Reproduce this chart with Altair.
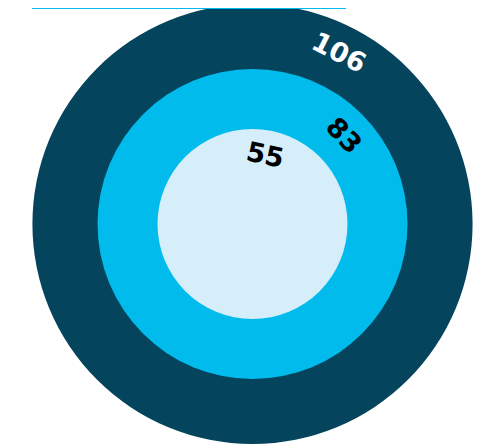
import altair as alt
import pandas as pd

# Data
categories = ["Outer", "Middle", "Inner"]
values = [106, 83, 55]
colors = ["#04445c", "#00bbec", "#d5eefa"]
label_colors = ["#ffffff", "#000000", "#000000"]

df = pd.DataFrame({"category": categories, "value": values,
                   "color": colors, "label_color": label_colors})

CX, CY = 244.5, 216

base = alt.Chart(df)

ring_scale = alt.Scale(type="linear", zero=False, domain=[55, 83, 106], range=[95, 155, 220])
ring_layers = []
for v in values:
    r = base.transform_filter(alt.datum.value == v).mark_arc(
        theta=0, theta2=6.2832, radius2=0
    ).encode(
        x=alt.value(CX), y=alt.value(CY),
        radius=alt.Radius("value:Q", stack=None, scale=ring_scale),
        color=alt.Color("color:N", scale=None),
    )
    ring_layers.append(r)

label_pos = {106: (26.8, 27), 83: (45.9, 46), 55: (10.4, 12)}
text_scale = alt.Scale(type="linear", zero=False, domain=[55, 83, 106], range=[69, 126, 191])
text_layers = []
for v, (pos_deg, rot) in label_pos.items():
    t = base.transform_filter(alt.datum.value == v).mark_text(
        font="DejaVu Sans", fontWeight="bold", fontSize=27,
        align="center", baseline="middle", angle=rot,
        theta=pos_deg * 3.14159265 / 180,
    ).encode(
        x=alt.value(CX), y=alt.value(CY),
        radius=alt.Radius("value:Q", stack=None, scale=text_scale),
        text=alt.Text("value:Q"),
        color=alt.Color("label_color:N", scale=None),
    )
    text_layers.append(t)

# clipped top bar (decoration at the top edge)
top_bar = base.transform_filter(alt.datum.value == 83).mark_rect(color="#00bbec").encode(
    x=alt.value(24), x2=alt.value(338), y=alt.value(0), y2=alt.value(1)
)

chart = alt.layer(*ring_layers, top_bar, *text_layers).resolve_scale(radius="independent").properties(
    width=468, height=438,
    autosize=alt.AutoSizeParams(type="none"),
    padding=0,
).configure_view(stroke=None)

chart.save("out.html", embed_options={"renderer": "svg", "actions": False})
